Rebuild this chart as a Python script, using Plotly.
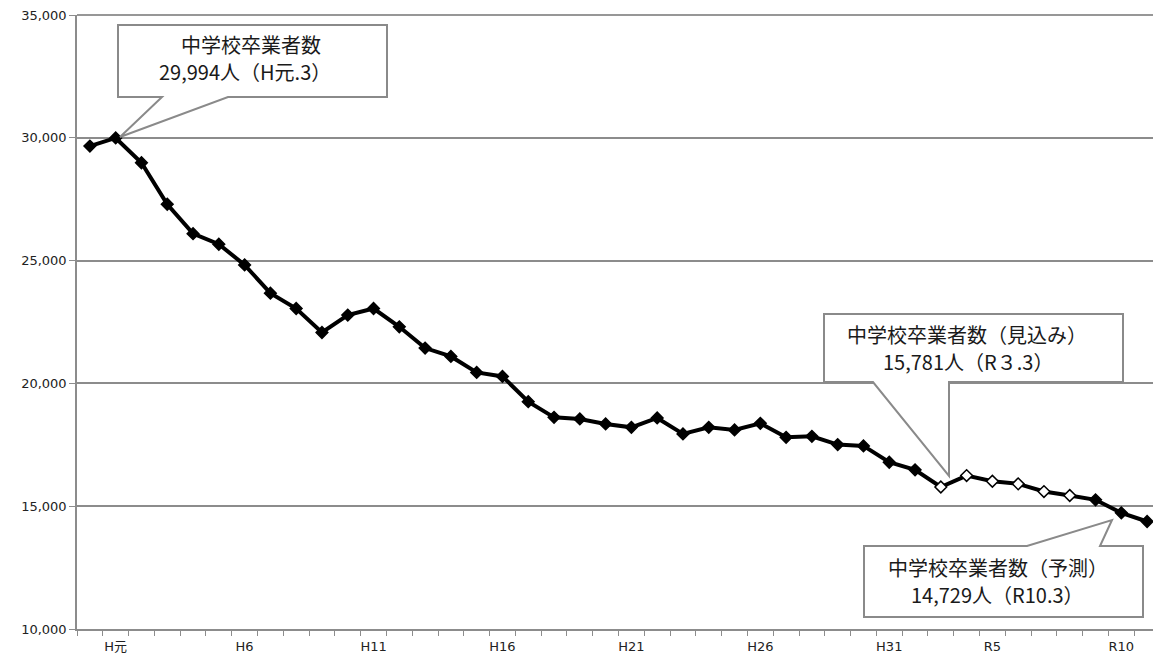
import plotly.graph_objects as go

# ---------------- data ----------------
years = ["S63", "H元", "H2", "H3", "H4", "H5", "H6", "H7", "H8", "H9", "H10",
         "H11", "H12", "H13", "H14", "H15", "H16", "H17", "H18", "H19", "H20",
         "H21", "H22", "H23", "H24", "H25", "H26", "H27", "H28", "H29", "H30",
         "H31", "R2", "R3", "R4", "R5", "R6", "R7", "R8", "R9", "R10", "R11"]
graduates = [29663, 29994, 28984, 27293, 26098, 25667, 24825, 23675, 23049, 22073,
             22780, 23049, 22305, 21439, 21098, 20447, 20285, 19256, 18618, 18553,
             18350, 18211, 18594, 17943, 18211, 18106, 18374, 17805, 17846, 17508,
             17455, 16789, 16480, 15781, 16248, 16016, 15910, 15597, 15435, 15260,
             14729, 14378]
hollow_years = ["R3", "R4", "R5", "R6", "R7", "R8"]
label_years = ["H元", "H6", "H11", "H16", "H21", "H26", "H31", "R5", "R10"]
y_ticks = [10000, 15000, 20000, 25000, 30000, 35000]

callout_lines = [
    ["中学校卒業者数", "29,994人（H元.3）"],
    ["中学校卒業者数（見込み）", "15,781人（R３.3）"],
    ["中学校卒業者数（予測）", "14,729人（R10.3）"],
]

# ---------------- layout geometry ----------------
W, H = 1161, 662
OFF = 8                      # page offset of the figure (body margin)
ML, MR, MT, MB = 69, 9, 7, 41
n = len(years)
x_idx = list(range(n))
YMIN, YMAX = 10000, 35000
cat_w = (W - ML - MR) / n
plot_h = H - MT - MB


def px2x(px):
    return (px - OFF - ML) / cat_w - 0.5


def py2y(py):
    return YMAX - (py - OFF - MT) * (YMAX - YMIN) / plot_h


def path_from_px(pts):
    s = ""
    for i, (a, b) in enumerate(pts):
        s += ("M" if i == 0 else "L") + f"{px2x(a):.4f},{py2y(b):.2f} "
    return s + "Z"


GRID = "#8c8c8c"
FONT = "Noto Sans CJK JP, Noto Sans, sans-serif"

fill_colors = ["white" if y in hollow_years else "black" for y in years]

fig = go.Figure()
fig.add_trace(go.Scatter(
    x=x_idx, y=graduates, mode="lines+markers",
    line=dict(color="black", width=4),
    marker=dict(symbol="diamond", size=9, color=fill_colors,
                line=dict(color="black", width=1.5)),
    hoverinfo="skip", showlegend=False,
))

# callout boxes (page-pixel layout positions)
box_paths = [
    [(118, 25), (387, 25), (387, 97), (228, 97), (120, 137), (162, 97), (118, 97)],
    [(824, 314), (1123, 314), (1123, 382), (949, 382), (949, 476), (873, 382), (824, 382)],
    [(864, 546), (1027, 546), (1112, 520), (1100, 546), (1143, 546), (1143, 617), (864, 617)],
]
line_centers = [
    [(251, 44), (245, 71)],
    [(967, 334), (968, 361)],
    [(998, 567), (997, 594)],
]

shapes = []
for p in box_paths:
    shapes.append(dict(type="path", xref="x", yref="y", path=path_from_px(p),
                       fillcolor="white", line=dict(color="#8a8a8a", width=2),
                       layer="above"))
# top border line
shapes.append(dict(type="line", xref="paper", yref="paper", x0=0, x1=1, y0=1, y1=1,
                   line=dict(color="#303030", width=1.2)))

annotations = []
for lines, centers in zip(callout_lines, line_centers):
    for t, (cx, cy) in zip(lines, centers):
        annotations.append(dict(x=px2x(cx), y=py2y(cy), xref="x", yref="y", text=t,
                                showarrow=False, align="center",
                                font=dict(family=FONT, size=20, color="#1a1a1a")))

fig.update_layout(
    width=W, height=H,
    margin=dict(l=ML, r=MR, t=MT, b=MB, autoexpand=False),
    paper_bgcolor="white", plot_bgcolor="white",
    shapes=shapes, annotations=annotations,
    xaxis=dict(
        range=[-0.5, n - 0.5],
        automargin=False,
        tickmode="array",
        tickvals=[years.index(y) for y in label_years],
        ticktext=label_years,
        ticks="", showgrid=False, zeroline=False,
        showline=True, linecolor=GRID, linewidth=1.5,
        ticklabelstandoff=5,
        tickfont=dict(family="DejaVu Sans, Noto Sans CJK JP", size=13, color="#222222"),
        minor=dict(tickmode="array", tickvals=[i - 0.5 for i in range(n + 1)],
                   ticks="outside", ticklen=5, tickcolor=GRID, tickwidth=1.2,
                   showgrid=False),
    ),
    yaxis=dict(
        range=[YMIN, YMAX],
        automargin=False,
        tickmode="array", tickvals=y_ticks,
        tickformat=",d",
        ticks="outside", ticklen=6, tickcolor=GRID, tickwidth=1.2,
        showgrid=True, gridcolor=GRID, gridwidth=1.5,
        zeroline=False,
        showline=True, linecolor=GRID, linewidth=1.5,
        ticklabeloverflow="allow",
        tickfont=dict(family="DejaVu Sans", size=13, color="#222222"),
    ),
)

fig.write_html("out.html")
